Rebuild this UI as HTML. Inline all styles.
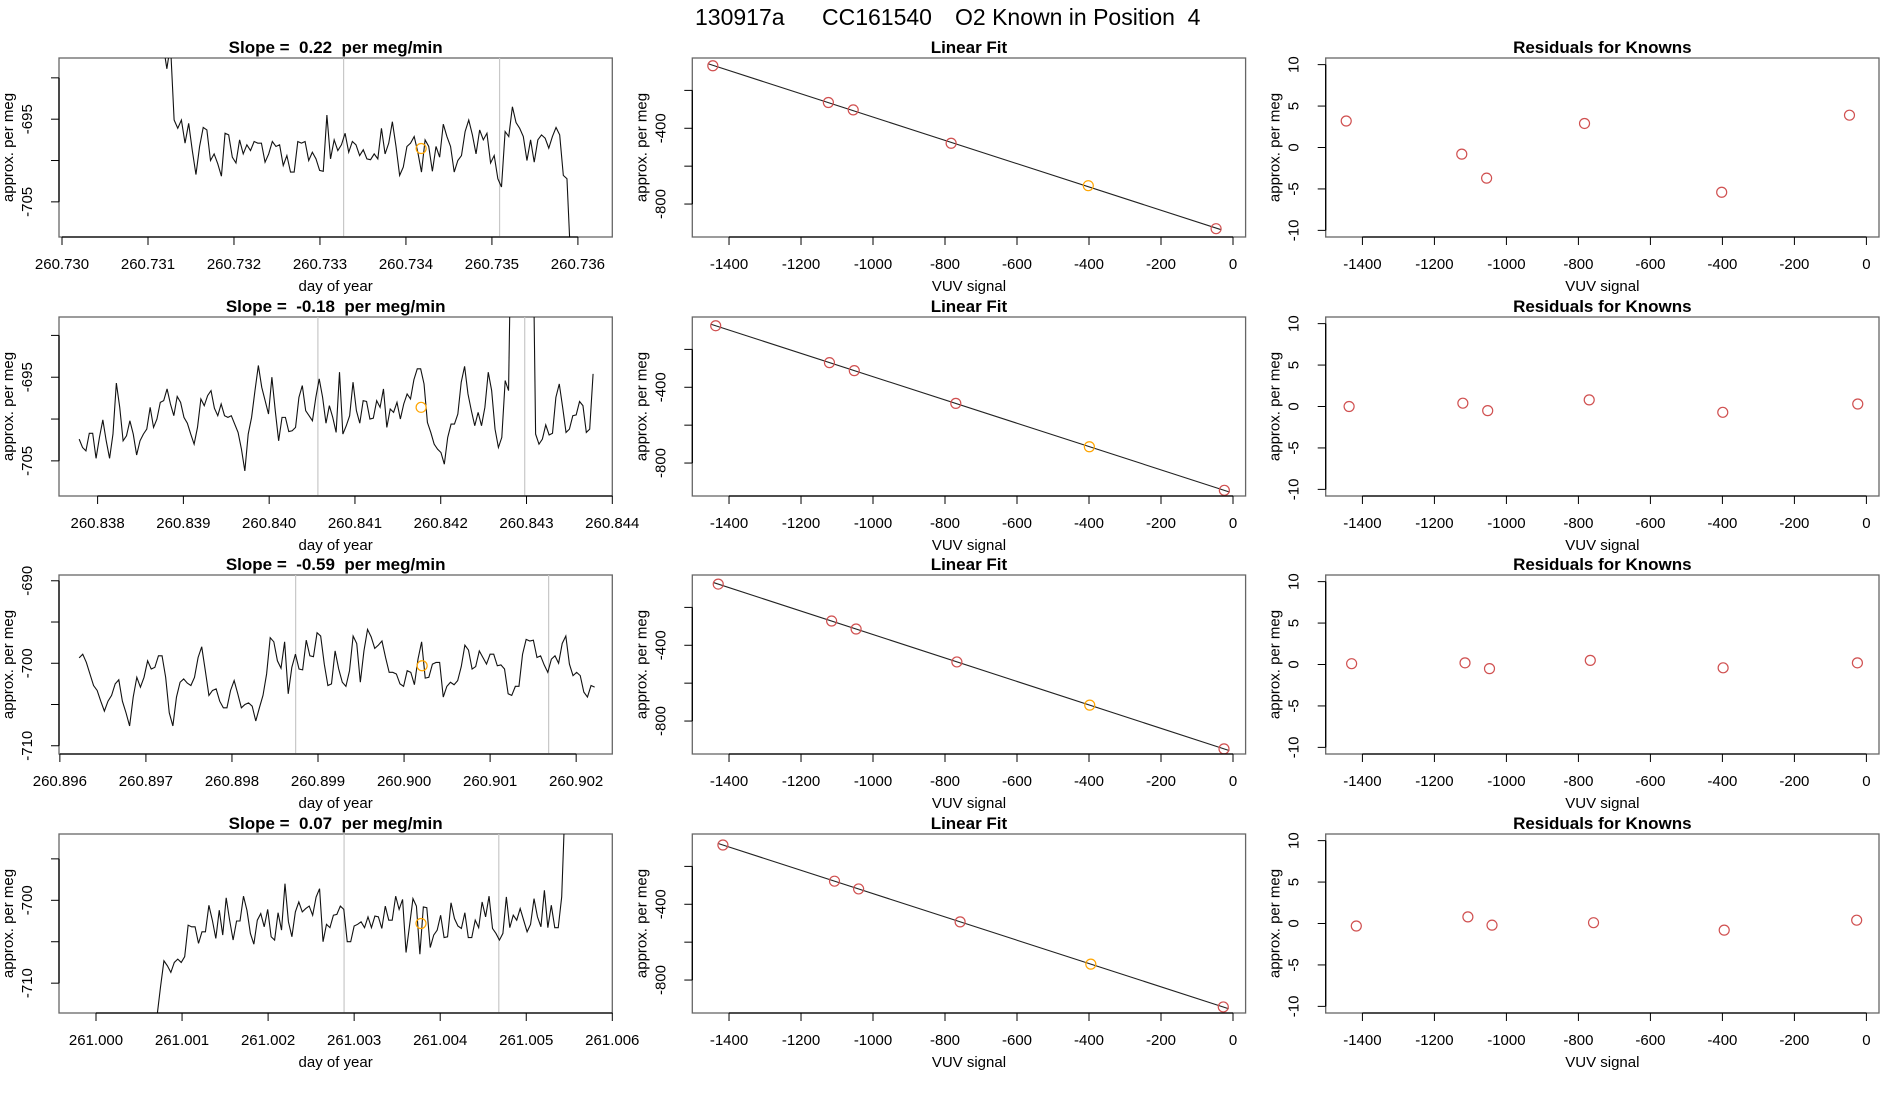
<!DOCTYPE html>
<html><head><meta charset="utf-8">
<style>
html,body{margin:0;padding:0;background:#fff;}
svg{display:block;font-family:"Liberation Sans",sans-serif;}
.pre{white-space:pre;}
</style></head>
<body>
<svg id="fig" width="1900" height="1100" viewBox="0 0 1900 1100">
<rect width="1900" height="1100" fill="#fff"/>
<text x="695" y="25" font-size="23">130917a</text>
<text x="822" y="25" font-size="23">CC161540</text>
<text x="955" y="25" font-size="23" class="pre">O2 Known in Position  4</text>
</svg>
<script>
// ---------- time-series data (values in per meg, uniform sampling between start/end day) ----------
const tsSlopes = ["0.22", "-0.18", "-0.59", "0.07"];
const ts1Start = 260.731177, ts1End = 260.735915;
const ts1Vals = [-686,-688.9,-686,-695.1,-696.1,-695.1,-697.9,-695.5,-698.8,-701.7,-698.3,-696.0,-696.3,-700.0,-699.2,-700.4,-701.9,-696.7,-696.9,-699.6,-700.3,-697.5,-699.2,-698.1,-698.8,-697.7,-697.9,-697.9,-700.2,-699.2,-697.7,-698.3,-698.1,-700.6,-699.4,-701.4,-701.4,-697.7,-697.9,-697.7,-700.0,-699.0,-699.8,-701.2,-701.3,-694.5,-699.8,-697.5,-698.8,-698.1,-696.7,-699.0,-697.7,-698.1,-699.4,-698.7,-699.8,-699.9,-699.2,-699.8,-696.1,-699.2,-697.9,-695.3,-698.3,-701.8,-700.8,-698.3,-697.9,-697.1,-699.0,-701.4,-697.5,-698.3,-701.3,-698.3,-699.6,-695.6,-697.1,-698.3,-701.4,-700.0,-699.4,-696.5,-695.1,-696.9,-699.2,-696.3,-697.5,-696.7,-700.3,-699.4,-702.2,-703.2,-696.5,-697.1,-693.5,-695.4,-696.1,-697.1,-700.0,-697.5,-700.2,-697.5,-696.9,-697.3,-698.5,-697.1,-696.0,-696.9,-701.8,-702.2,-712];
const ts1VLines = [260.733275, 260.735089];
const ts1KnownDay = 260.734177, ts1KnownVal = -698.55;

const ts2Start = 260.837785, ts2End = 260.843776;
const ts2Vals = [-702.4,-703.4,-703.8,-701.7,-701.7,-704.7,-702.2,-700.1,-702.6,-704.7,-701.8,-695.7,-698.6,-702.6,-702.0,-700.2,-701.8,-704.3,-702.6,-701.8,-701.2,-698.6,-701.0,-700.0,-698.0,-697.8,-696.4,-698.2,-699.6,-697.3,-698.0,-699.8,-700.5,-701.8,-703.0,-701.0,-697.6,-698.4,-697.2,-696.6,-698.7,-699.6,-698.2,-699.6,-699.8,-699.6,-700.6,-701.6,-703.6,-706.2,-701.8,-699.8,-696.6,-693.6,-696.2,-697.8,-699.4,-695.0,-699.0,-702.6,-699.8,-699.8,-701.5,-701.4,-701.0,-697.4,-696.0,-699.0,-699.6,-700.2,-697.4,-695.2,-697.4,-700.5,-698.4,-699.8,-701.6,-694.4,-701.8,-700.8,-699.6,-695.6,-699.0,-700.5,-697.8,-697.9,-700.0,-699.9,-697.8,-698.6,-696.4,-701.0,-698.8,-699.2,-698.0,-700.0,-698.2,-697.0,-697.6,-695.3,-694.0,-694.0,-695.8,-700.4,-701.6,-703.0,-703.6,-704.0,-705.4,-702.2,-700.6,-700.6,-699.4,-695.6,-693.7,-697.0,-699.0,-700.8,-699.2,-700.8,-698.6,-694.4,-696.6,-701.2,-703.4,-702.2,-695.4,-696.6,-670,-670,-670,-670,-670,-670,-670,-701.8,-703.0,-702.4,-700.7,-701.9,-701.7,-697.4,-695.8,-698.6,-701.6,-701.2,-699.6,-699.5,-697.9,-698.4,-701.6,-701.2,-694.6];
const ts2VLines = [260.840568, 260.842979];
const ts2KnownDay = 260.841771, ts2KnownVal = -698.6;

const ts3Start = 260.896224, ts3End = 260.902215;
const ts3Vals = [-699.35,-698.9,-699.9,-701.3,-702.7,-703.3,-704.6,-705.8,-704.6,-703.9,-702.5,-702.0,-704.6,-706.0,-707.6,-704.1,-701.7,-702.9,-701.7,-699.7,-700.7,-700.5,-699.1,-699.1,-701.7,-706.0,-707.6,-704.1,-702.3,-701.9,-702.4,-702.7,-701.7,-699.3,-698.0,-700.9,-703.9,-703.3,-703.1,-704.6,-705.4,-705.4,-703.3,-702.1,-703.7,-705.4,-705.0,-704.8,-705.2,-707.0,-705.4,-703.9,-701.3,-696.9,-697.4,-699.7,-700.6,-697.4,-703.7,-700.5,-698.9,-700.7,-700.8,-697.2,-699.1,-699.2,-696.3,-696.7,-700.1,-702.7,-702.5,-698.5,-700.7,-702.3,-702.8,-700.9,-696.7,-697.6,-702.3,-698.5,-695.9,-696.8,-698.2,-697.8,-697.3,-699.3,-701.1,-701.1,-701.3,-702.5,-702.8,-700.9,-701.1,-702.6,-699.5,-697.4,-701.8,-701.7,-700.1,-699.9,-699.9,-704.1,-702.8,-702.3,-702.6,-702.1,-700.4,-697.8,-698.4,-700.7,-700.4,-698.5,-699.3,-700.1,-698.9,-698.9,-700.3,-700.2,-700.7,-703.7,-703.9,-702.8,-702.8,-698.9,-697.1,-697.3,-697.2,-699.3,-699.1,-700.2,-701.1,-699.5,-699.1,-700.0,-697.6,-696.7,-700.1,-701.5,-701.1,-701.5,-703.5,-704.1,-702.7,-702.9];
const ts3VLines = [260.898740, 260.901680];
const ts3KnownDay = 260.900210, ts3KnownVal = -700.3;

const ts4Start = 261.000709, ts4End = 261.005452;
const ts4Vals = [-714,-710.5,-707.3,-707.9,-708.7,-707.5,-707.1,-707.5,-706.8,-703.0,-703.2,-703.2,-705.2,-703.8,-703.8,-700.6,-702.4,-704.6,-701.2,-704.2,-699.7,-702.4,-704.8,-702.5,-702.5,-699.5,-701.2,-704.0,-705.3,-702.4,-701.6,-703.2,-701.1,-704.4,-704.8,-701.5,-703.6,-698.0,-702.6,-704.4,-701.4,-700.2,-701.4,-701.0,-700.7,-701.8,-699.6,-698.6,-705.0,-702.9,-703.3,-701.8,-701.7,-700.7,-701.1,-705.0,-705.0,-703.1,-702.9,-702.6,-703.3,-702.0,-703.3,-701.9,-702.0,-703.4,-700.7,-702.4,-702.4,-699.5,-701.1,-699.9,-706.3,-703.1,-699.8,-700.7,-706.5,-700.8,-700.9,-705.7,-704.2,-703.6,-701.8,-704.5,-704.4,-700.3,-702.2,-703.1,-703.4,-701.5,-704.5,-704.5,-702.4,-703.3,-700.2,-702.0,-699.5,-703.4,-704.0,-704.8,-704.0,-699.6,-703.3,-701.8,-702.4,-701.0,-702.4,-703.8,-702.9,-699.8,-702.0,-703.2,-698.8,-703.3,-700.6,-703.3,-703.3,-699.6,-688];
const ts4VLines = [261.002883, 261.004681];
const ts4KnownDay = 261.003777, ts4KnownVal = -702.8;

const tsXTicks1 = ["260.730","260.731","260.732","260.733","260.734","260.735","260.736"];
const tsXTicks2 = ["260.838","260.839","260.840","260.841","260.842","260.843","260.844"];
const tsXTicks3 = ["260.896","260.897","260.898","260.899","260.900","260.901","260.902"];
const tsXTicks4 = ["261.000","261.001","261.002","261.003","261.004","261.005","261.006"];
const tsYTicks1 = [-690,-695,-700,-705];
const tsYLabels1 = ["","-695","","-705"];
const tsYTicks3 = [-690,-695,-700,-705,-710];
const tsYLabels3 = ["-690","","-700","","-710"];
const tsYTicks4 = [-695,-700,-705,-710];
const tsYLabels4 = ["","-700","","-710"];
const tsXLims = [[260.729965,260.73640],[260.83755,260.84400],[260.89599,260.90242],[260.99957,261.00600]];
const tsYLims = [[-709.25,-687.6],[-709.2,-687.8],[-711.0,-689.3],[-713.6,-692.0]];

// ---------- linear fit / residual data ----------
const fitX1 = [-1445,-1124,-1055,-783,-402,-47];
const fitY1 = [-70,-264,-303,-479,-703,-930];
const res1 = [3.2,-0.8,-3.7,2.9,-5.4,3.9];
const fitX2 = [-1437,-1121,-1052,-770,-399,-24];
const fitY2 = [-75,-270,-312,-485,-714,-944];
const res2 = [0.0,0.4,-0.5,0.8,-0.7,0.3];
const fitX3 = [-1430,-1115,-1047,-767,-398,-25];
const fitY3 = [-77,-272,-314,-488,-716,-947];
const res3 = [0.1,0.2,-0.5,0.5,-0.4,0.2];
const fitX4 = [-1417,-1107,-1040,-758,-395,-27];
const fitY4 = [-87,-278,-319,-493,-716,-942];
const res4 = [-0.3,0.8,-0.2,0.1,-0.8,0.4];
const knownIndex = 4; // orange point (the known)
const vuvTicks = [-1400,-1200,-1000,-800,-600,-400,-200,0];
const fitYTicks = [-200,-400,-600,-800];
const fitYLabels = ["","-400","","-800"];
const resYTicks = [-10,-5,0,5,10];
const vuvLim = [-1502,35];
const fitYLim = [-974,-29];
const resYLim = [-10.8,10.8];

// ---------- layout ----------
const rowTops = [58,317,575,834];
const boxH = 179;
const colL = [59,692.3,1325.7];
const colR = [612.3,1245.6,1879];
const NS = "http://www.w3.org/2000/svg";
const svg = document.getElementById('fig');

function el(tag, attrs, parent){
  const e = document.createElementNS(NS, tag);
  for (const k in attrs) e.setAttribute(k, attrs[k]);
  (parent||svg).appendChild(e);
  return e;
}
function scale(d0,d1,r0,r1){ return v => r0 + (v-d0)/(d1-d0)*(r1-r0); }

let clipId = 0;
function frame(row, col, title, xlabel, xlim, ylim, name){
  const L = colL[col], R = colR[col], T = rowTops[row], B = T + boxH;
  const g = el('g', {});
  
  
  const x = scale(xlim[0], xlim[1], L, R);
  const y = scale(ylim[0], ylim[1], B, T);
  const box = el('rect', {x:L, y:T, width:R-L, height:B-T, fill:'none', stroke:'#666', 'stroke-width':1.3}, g);
  
  
  const t = el('text', {x:(L+R)/2, y:T-5, 'text-anchor':'middle', 'font-size':17, 'font-weight':'bold', 'class':'pre'}, g);
  t.textContent = title;
  
  
  const xl = el('text', {x:(L+R)/2, y:B+54, 'text-anchor':'middle', 'font-size':15}, g);
  xl.textContent = xlabel;
  
  
  const yl = el('text', {x:0, y:0, 'text-anchor':'middle', 'font-size':15, transform:`translate(${L-46},${(T+B)/2}) rotate(-90)`}, g);
  yl.textContent = 'approx. per meg';
  
  
  const id = 'clip' + (clipId++);
  const cp = el('clipPath', {id:id}, g);
  el('rect', {x:L, y:T, width:R-L, height:B-T}, cp);
  const plot = el('g', {'clip-path':`url(#${id})`}, g);
  
  
  return {g, plot, x, y, L, R, T, B};
}
function xAxis(f, vals, labels){
  const a = el('g', {}, f.g);
  
  
  el('line', {x1:f.x(vals[0]), x2:f.x(vals[vals.length-1]), y1:f.B, y2:f.B, stroke:'#000', 'stroke-width':1.3}, a);
  vals.forEach((v,i)=>{
    el('line', {x1:f.x(v), x2:f.x(v), y1:f.B, y2:f.B+8, stroke:'#000', 'stroke-width':1}, a);
    const t = el('text', {x:f.x(v), y:f.B+32, 'text-anchor':'middle', 'font-size':15}, a);
    t.textContent = labels[i];
    
    
  });
}
function yAxis(f, vals, labels){
  const a = el('g', {}, f.g);
  
  
  el('line', {x1:f.L, x2:f.L, y1:f.y(vals[0]), y2:f.y(vals[vals.length-1]), stroke:'#000', 'stroke-width':1.3}, a);
  vals.forEach((v,i)=>{
    el('line', {x1:f.L-8, x2:f.L, y1:f.y(v), y2:f.y(v), stroke:'#000', 'stroke-width':1}, a);
    if (labels[i] !== ""){
      const t = el('text', {x:0, y:0, 'text-anchor':'middle', 'font-size':15, transform:`translate(${f.L-27},${f.y(v)}) rotate(-90)`}, a);
      t.textContent = labels[i];
      
      
    }
  });
}

// ---------- time-series panels ----------
const tsSets = [
  [ts1Start, ts1End, ts1Vals, ts1VLines, ts1KnownDay, ts1KnownVal, tsXTicks1, tsYTicks1, tsYLabels1],
  [ts2Start, ts2End, ts2Vals, ts2VLines, ts2KnownDay, ts2KnownVal, tsXTicks2, tsYTicks1, tsYLabels1],
  [ts3Start, ts3End, ts3Vals, ts3VLines, ts3KnownDay, ts3KnownVal, tsXTicks3, tsYTicks3, tsYLabels3],
  [ts4Start, ts4End, ts4Vals, ts4VLines, ts4KnownDay, ts4KnownVal, tsXTicks4, tsYTicks4, tsYLabels4]
];
tsSets.forEach((s, r) => {
  const [t0, t1, vals, vl, kd, kv, xt, yt, yls] = s;
  const f = frame(r, 0, `Slope =  ${tsSlopes[r]}  per meg/min`, 'day of year', tsXLims[r], tsYLims[r], 'timeseries-panel-' + (r+1));
  vl.forEach(d => {
    const ln = el('line', {x1:f.x(d), x2:f.x(d), y1:f.T, y2:f.B, stroke:'#c8c8c8', 'stroke-width':1.2}, f.plot);
    
    
  });
  const n = vals.length;
  const pts = vals.map((v,i) => `${f.x(t0 + (t1-t0)*i/(n-1)).toFixed(2)},${f.y(v).toFixed(2)}`).join(' ');
  const pl = el('polyline', {points:pts, fill:'none', stroke:'#111', 'stroke-width':1.1}, f.plot);
  
  
  const c = el('circle', {cx:f.x(kd), cy:f.y(kv), r:5, fill:'none', stroke:'orange', 'stroke-width':1.2}, f.plot);
  
  
  xAxis(f, xt.map(Number), xt);
  yAxis(f, yt, yls);
});

// ---------- linear fit & residual panels ----------
const fitSets = [[fitX1,fitY1,res1],[fitX2,fitY2,res2],[fitX3,fitY3,res3],[fitX4,fitY4,res4]];
fitSets.forEach((s, r) => {
  const [xs, ys, rs] = s;
  const f = frame(r, 1, 'Linear Fit', 'VUV signal', vuvLim, fitYLim, 'linear-fit-panel-' + (r+1));
  const n = xs.length;
  const mx = xs.reduce((a,b)=>a+b,0)/n, my = ys.reduce((a,b)=>a+b,0)/n;
  let sxy=0, sxx=0;
  xs.forEach((x,i)=>{ sxy += (x-mx)*(ys[i]-my); sxx += (x-mx)*(x-mx); });
  const m = sxy/sxx, b = my - m*mx;
  const xa = Math.min(...xs) - 12, xb = Math.max(...xs) + 15;
  const ln = el('line', {x1:f.x(xa), y1:f.y(m*xa+b), x2:f.x(xb), y2:f.y(m*xb+b), stroke:'#222', 'stroke-width':1.1}, f.plot);
  
  
  xs.forEach((x,i)=>{
    const c = el('circle', {cx:f.x(x), cy:f.y(ys[i]), r:5, fill:'none', stroke: i===knownIndex ? 'orange' : '#d05050', 'stroke-width':1.2}, f.plot);
    
    
  });
  xAxis(f, vuvTicks, vuvTicks.map(String));
  yAxis(f, fitYTicks, fitYLabels);

  const g = frame(r, 2, 'Residuals for Knowns', 'VUV signal', vuvLim, resYLim, 'residuals-panel-' + (r+1));
  xs.forEach((x,i)=>{
    const c = el('circle', {cx:g.x(x), cy:g.y(rs[i]), r:5, fill:'none', stroke:'#d05050', 'stroke-width':1.2}, g.plot);
    
    
  });
  xAxis(g, vuvTicks, vuvTicks.map(String));
  yAxis(g, resYTicks, resYTicks.map(String));
});
</script>
</body></html>
